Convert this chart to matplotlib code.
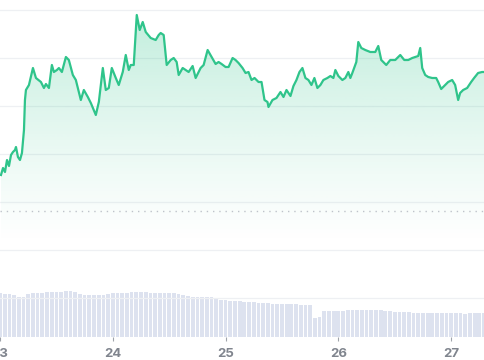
import numpy as np
import matplotlib
matplotlib.use("Agg")
import matplotlib.pyplot as plt
from matplotlib.colors import to_rgb

# ---- data ----
hours = [0.21, 0.64, 1.06, 1.49, 1.91, 2.34, 2.76, 3.19, 3.40, 3.82, 4.25, 4.67, 5.10, 5.31, 5.52,
         6.16, 7.01, 7.65, 8.71, 9.35, 9.77, 10.41, 11.04, 11.47, 12.11, 12.53, 13.17, 14.02, 14.65,
         15.50, 16.14, 17.20, 17.84, 18.69, 19.33, 20.39, 21.03, 21.88, 22.51, 23.15, 23.79, 24.64,
         25.27, 26.12, 26.76, 27.40, 27.82, 28.46, 29.10, 29.73, 30.37, 31.01, 32.07, 33.13, 33.77,
         34.19, 34.83, 35.47, 36.32, 36.96, 37.59, 38.02, 38.87, 39.50, 40.14, 40.99, 41.63, 42.27,
         42.69, 43.33, 44.18, 45.03, 45.88, 46.51, 47.15, 48.00, 48.64, 49.49, 50.12, 50.76, 51.61,
         52.25, 52.88, 53.52, 54.16, 55.01, 55.65, 56.28, 56.92, 57.13, 57.98, 58.83, 59.68, 60.32,
         60.96, 61.81, 62.44, 63.08, 63.72, 64.35, 64.99, 65.63, 66.27, 66.90, 67.54, 68.18, 68.81,
         69.66, 70.30, 70.94, 71.36, 72.00, 72.85, 73.48, 74.12, 74.55, 74.97, 75.82, 76.24, 76.88,
         77.73, 78.79, 79.85, 80.49, 81.13, 81.55, 82.19, 83.04, 84.10, 85.17, 86.02, 86.87, 87.72,
         88.99, 89.42, 89.84, 90.48, 91.12, 91.96, 92.81, 93.24, 93.88, 94.51, 95.36, 96.21, 96.85,
         97.49, 97.91, 98.55, 99.40, 100.25, 100.88, 101.73, 102.58, 103.22]

price = [75, 82, 78, 90, 84, 95, 98, 100, 103, 93, 90, 97, 120, 150, 160,
         165, 182, 172, 168, 162, 166, 162, 185, 178, 180, 182, 178, 193, 190,
         175, 170, 150, 160, 153, 147, 135, 148, 182, 160, 162, 182, 172,
         165, 178, 195, 180, 185, 185, 235, 220, 228, 218, 212, 210, 215,
         217, 215, 185, 190, 192, 188, 175, 182, 180, 178, 184, 172, 178,
         182, 185, 200, 193, 186, 188, 186, 183, 183, 192, 190, 187, 182,
         177, 178, 170, 172, 168, 168, 150, 148, 143, 150, 152, 158, 153,
         160, 154, 164, 170, 178, 182, 172, 170, 165, 172, 162, 165, 170,
         172, 174, 172, 180, 174, 170, 172, 178, 172, 177, 188, 208, 202,
         200, 198, 198, 204, 190, 188, 185, 190, 190, 195, 190, 190, 192,
         194, 202, 182, 175, 173, 172, 172, 168, 161, 164, 168, 170, 165,
         150, 157, 160, 162, 168, 172, 177, 178, 178]

volume = [44, 43, 43, 42, 40, 40, 43, 44, 44, 44, 45, 45, 45, 45, 46, 46, 45, 43, 42, 42,
          42, 42, 42, 43, 44, 44, 44, 44, 45, 45, 45, 45, 44, 44, 44, 44, 44, 44, 43, 42,
          41, 40, 40, 40, 40, 40, 39, 37, 37, 36, 36, 36, 35, 35, 35, 34, 34, 34, 33, 33,
          33, 33, 33, 33, 32, 32, 32, 19, 20, 26, 26, 26, 26, 26, 27, 27, 27, 27, 27, 27,
          27, 27, 26, 26, 25, 25, 25, 25, 24, 24, 24, 24, 24, 24, 24, 24, 24, 24, 24, 23,
          24, 24, 24, 24]

tick_hours = [0, 24, 48, 72, 96]
tick_labels = ["23", "24", "25", "26", "27"]
grid_levels = [240, 192, 144, 96, 48, 0, -48]
ref_level = 39

# ---- figure ----
W, H = 485, 360
fig = plt.figure(figsize=(W / 100, H / 100), dpi=100)
fig.patch.set_facecolor("white")
ax = fig.add_axes([0, 23 / H, 1, 337 / H])
xmin, xmax = 0.212, 103.2
ymin, ymax = -87, 250
ax.set_xlim(xmin, xmax)
ax.set_ylim(ymin, ymax)

for g in grid_levels:
    ax.axhline(g, color="#eef0f3", lw=0.9, zorder=0)

# volume bars on twin axis
axv = ax.twinx()
axv.set_ylim(0, 337)
axv.bar(np.arange(len(volume)), volume, width=0.8, color="#dde2ef", align="center",
        zorder=1, linewidth=0)
axv.set_xlim(xmin, xmax)
axv.axis("off")

# gradient fill under price
green = "#2fc48b"
r, g_, b = to_rgb(green)
n = 256
grad = np.zeros((n, 1, 4))
t = np.linspace(1, 0, n)  # top -> bottom
grad[:, 0, 0] = r
grad[:, 0, 1] = g_
grad[:, 0, 2] = b
grad[:, 0, 3] = 0.3 * t ** 1.2
fill_bottom = 5
im = ax.imshow(grad, extent=[xmin, xmax, fill_bottom, 240], aspect="auto",
               origin="upper", zorder=2, interpolation="bilinear")
poly = ax.fill_between(hours, price, fill_bottom, color="none", lw=0)
path = poly.get_paths()[0]
im.set_clip_path(path, transform=ax.transData)

ax.axhline(ref_level, color="#bfc3ca", lw=1.0, ls=(0, (1, 3.5)), zorder=3)

ax.plot(hours, price, color=green, lw=1.6, zorder=4, solid_joinstyle="round")

ax.set_xticks(tick_hours)
ax.set_xticklabels(tick_labels)
ax.tick_params(axis="x", length=3, width=0.8, color="#a0a4ab", pad=5,
               labelsize=9.5, labelcolor="#80858e")
for lab in ax.get_xticklabels():
    lab.set_fontweight("bold")
    lab.set_family(["Inter", "DejaVu Sans"])
ax.set_yticks([])
for s in ax.spines.values():
    s.set_visible(False)
ax.set_zorder(axv.get_zorder() + 1)
ax.patch.set_visible(False)

fig.savefig("out.png", dpi=100, facecolor="white")
